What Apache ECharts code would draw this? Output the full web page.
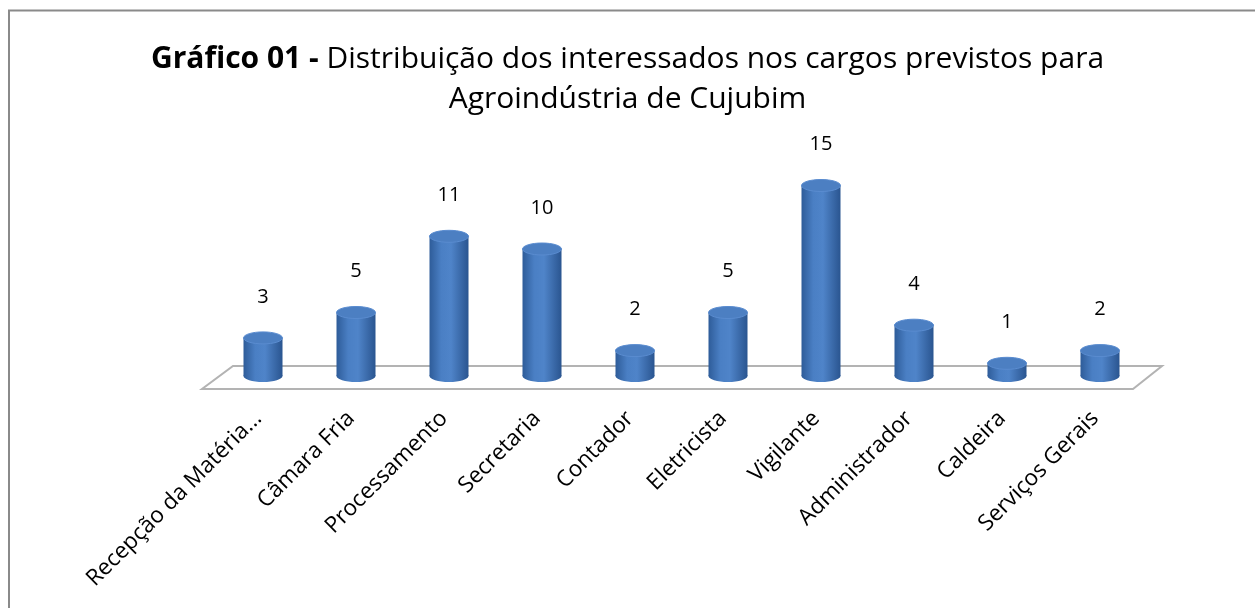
<!DOCTYPE html>
<html>
<head>
<meta charset="utf-8">
<script src="https://cdn.jsdelivr.net/npm/echarts@6/dist/echarts.min.js"></script>
<style>
  html, body { margin: 0; padding: 0; background: #fff; }
  #main { width: 1255px; height: 608px; }
</style>
</head>
<body>
<div id="main"></div>
<script>
// categories and counts
var cargos = ['Recepção da Matéria...', 'Câmara Fria', 'Processamento', 'Secretaria', 'Contador',
    'Eletricista', 'Vigilante', 'Administrador', 'Caldeira', 'Serviços Gerais'];
var interessados = [3, 5, 11, 10, 2, 5, 15, 4, 1, 2];

var chart = echarts.init(document.getElementById('main'));

var FONT = '"Open Sans", "Noto Sans", sans-serif';

function renderCylinder(params, api) {
    var base = api.coord([api.value(0), 0]);
    var top = api.coord([api.value(0), api.value(1)]);
    var rx = 19.5, ry = 6;
    var cx = base[0];
    var side = new echarts.graphic.LinearGradient(0, 0, 1, 0, [
        {offset: 0, color: '#2e5c99'},
        {offset: 0.3, color: '#4a7fc4'},
        {offset: 0.55, color: '#4f84c9'},
        {offset: 1, color: '#2a5590'}
    ]);
    return {
        type: 'group',
        children: [
            {
                type: 'ellipse',
                shape: {cx: cx, cy: base[1], rx: rx, ry: ry},
                style: {fill: side}
            },
            {
                type: 'rect',
                shape: {x: cx - rx, y: top[1], width: rx * 2, height: base[1] - top[1]},
                style: {fill: side}
            },
            {
                type: 'ellipse',
                shape: {cx: cx, cy: top[1], rx: rx, ry: ry},
                style: {fill: '#4c7fc2', stroke: '#5a8cd0', lineWidth: 1}
            },
            {
                type: 'text',
                x: cx,
                y: top[1] - 41,
                style: {
                    text: String(api.value(1)),
                    align: 'center',
                    verticalAlign: 'middle',
                    font: '20px ' + FONT,
                    fill: '#000'
                }
            }
        ]
    };
}

chart.setOption({
    animation: false,
    backgroundColor: '#fff',
    title: {
        left: 'center',
        top: 34,
        text: '{b|Gráfico 01 -} Distribuição dos interessados nos cargos previstos para\nAgroindústria de Cujubim',
        textStyle: {
            fontFamily: FONT,
            fontSize: 30,
            fontWeight: 'normal',
            color: '#000',
            lineHeight: 40,
            align: 'center',
            rich: {
                b: {fontFamily: FONT, fontSize: 30, fontWeight: 'bold', color: '#000', lineHeight: 40}
            }
        }
    },
    grid: {left: 216.5, width: 930, top: 122, height: 254, containLabel: false},
    xAxis: {
        type: 'category',
        data: cargos,
        axisLine: {show: false},
        axisTick: {show: false},
        axisLabel: {
            rotate: 45,
            interval: 0,
            margin: 34,
            padding: [0, 7, 0, 0],
            fontFamily: FONT,
            fontSize: 22.5,
            color: '#000'
        }
    },
    yAxis: {
        type: 'value',
        min: 0,
        max: 20,
        show: false,
        splitLine: {show: false}
    },
    series: [{
        type: 'custom',
        renderItem: renderCylinder,
        data: interessados.map(function (v, i) { return [i, v]; }),
        encode: {x: 0, y: 1},
        z: 3
    }]
});

// floor plate and border, positioned from the grid scale
var b0 = chart.convertToPixel({xAxisIndex: 0}, 0);
var b9 = chart.convertToPixel({xAxisIndex: 0}, cargos.length - 1);
var half = (b9 - b0) / (cargos.length - 1) / 2;
var left = b0 - half, right = b9 + half;
var baseY = chart.convertToPixel({yAxisIndex: 0}, 0);

chart.setOption({
    graphic: [
        {
            type: 'polygon',
            z: 1,
            shape: {points: [
                [left + 16.5, baseY - 10], [right + 15.5, baseY - 10],
                [right - 13.5, baseY + 13], [left - 14.5, baseY + 13]
            ]},
            style: {fill: '#fff', stroke: '#b3b3b3', lineWidth: 2}
        },
        {
            type: 'polyline',
            z: 10,
            shape: {points: [[9, 700], [9, 10.5], [1260, 10.5]]},
            style: {fill: null, stroke: '#8a8a8a', lineWidth: 2}
        }
    ]
});
</script>
</body>
</html>
